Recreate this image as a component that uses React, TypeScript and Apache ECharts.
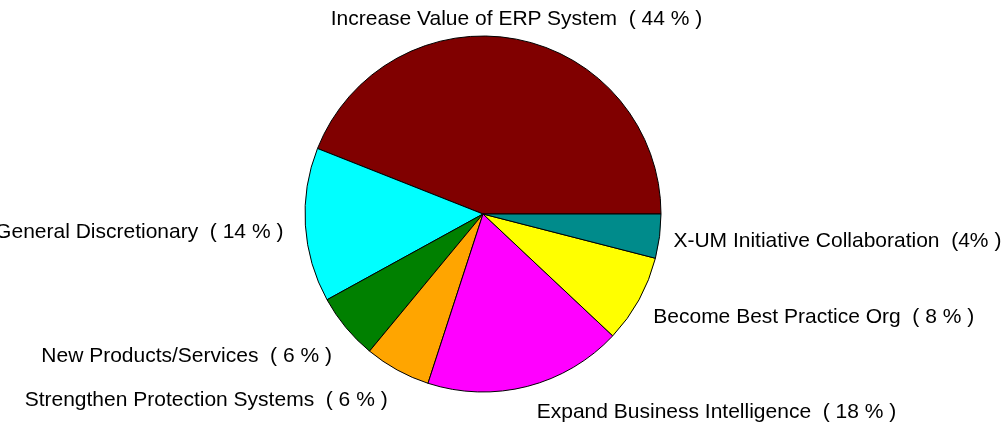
import React, { useEffect, useRef } from "react";
import * as echarts from "echarts";

const categories = [
  "Increase Value of ERP System",
  "General Discretionary",
  "New Products/Services",
  "Strengthen Protection Systems",
  "Expand Business Intelligence",
  "Become Best Practice Org",
  "X-UM Initiative Collaboration",
];
const values = [44, 14, 6, 6, 18, 8, 4];
const percentLabels = ["( 44 % )", "( 14 % )", "( 6 % )", "( 6 % )", "( 18 % )", "( 8 % )", "(4% )"];
const colors = ["#800000", "#00FFFF", "#008000", "#FFA500", "#FF00FF", "#FFFF00", "#008B8B"];

const CX = 483;
const CY = 214;
const R = 178;
const LABEL_R = 200;
// small per-label layout nudges (pixels) to mimic the original label placement
const NUDGE_X = [-4, 0, 3, 1, 4, -5, -8];
const NUDGE_Y = [0, 4, 13, 9, 3, 5, 0];

export default function App() {
  const ref = useRef<HTMLDivElement>(null);
  useEffect(() => {
    const chart = echarts.init(ref.current!, null, { renderer: "svg" });
    const total = values.reduce((a, b) => a + b, 0);
    const mids: number[] = [];
    let acc = 0;
    values.forEach((v) => {
      mids.push(((acc + v / 2) / total) * 360);
      acc += v;
    });
    chart.setOption({
      animation: false,
      series: [
        {
          type: "pie",
          center: [CX, CY],
          radius: R,
          startAngle: 0,
          clockwise: false,
          avoidLabelOverlap: false,
          data: categories.map((name, i) => ({ name, value: values[i], itemStyle: { color: colors[i] } })),
          itemStyle: { borderColor: "#000", borderWidth: 1 },
          label: {
            show: true,
            position: "outside",
            formatter: (p: any) => `${p.name}  ${percentLabels[p.dataIndex]}`,
            fontFamily: "'Liberation Sans', Arial, sans-serif",
            fontSize: 21,
            color: "#000",
          },
          labelLine: { show: false },
          labelLayout: (p: any) => {
            const i = p.dataIndex;
            const a = (mids[i] * Math.PI) / 180;
            const c = Math.cos(a);
            const x = CX + LABEL_R * c + NUDGE_X[i];
            const y = CY - LABEL_R * Math.sin(a) + NUDGE_Y[i];
            const align = Math.abs(c) < 0.2 ? "center" : c > 0 ? "left" : "right";
            return { x, y, align, verticalAlign: "middle" };
          },
          emphasis: { disabled: true },
        },
      ],
    });
    return () => chart.dispose();
  }, []);
  return <div ref={ref} style={{ position: "fixed", left: 0, top: 0, width: 1004, height: 430 }} />;
}
